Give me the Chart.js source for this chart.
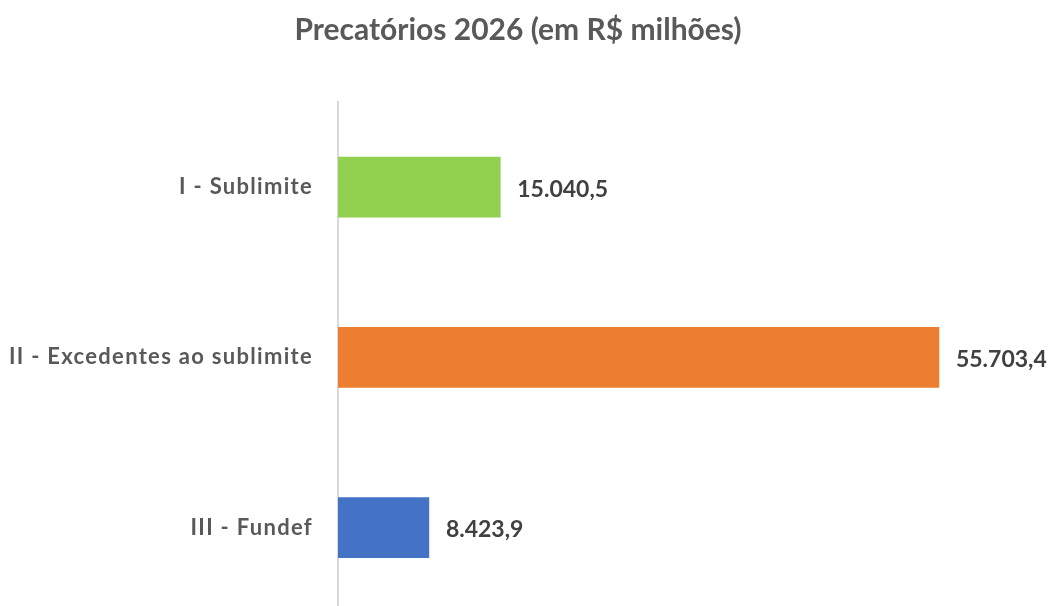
<!DOCTYPE html>
<html>
<head>
<meta charset="utf-8">
<script src="https://cdn.jsdelivr.net/npm/chart.js@4"></script>
<style>
  html, body { margin:0; padding:0; background:#fff; overflow:hidden; }
</style>
</head>
<body>
<canvas id="chart" width="1052" height="651" style="width:1052px;height:651px"></canvas>
<script>
// --- Data ---
const categories = ['I - Sublimite', 'II - Excedentes ao sublimite', 'III - Fundef'];
const values = [15040.5, 55703.4, 8423.9];
const barColors = ['#92D050', '#ED7D31', '#4472C4'];
const titleText = 'Precatórios 2026 (em R$ milhões)';

const FONT = 'Lato, "Open Sans", sans-serif';
const fmt = v => v.toLocaleString('pt-BR', { minimumFractionDigits: 1, maximumFractionDigits: 1 });

// value labels to the right of each bar
const valueLabels = {
  id: 'valueLabels',
  afterDatasetsDraw(chart){
    const ctx = chart.ctx;
    const meta = chart.getDatasetMeta(0);
    ctx.save();
    ctx.font = 'bold 23px ' + FONT;
    ctx.fillStyle = '#404040';
    ctx.textAlign = 'left';
    ctx.textBaseline = 'middle';
    meta.data.forEach((bar, i) => {
      ctx.fillText(fmt(values[i]), bar.x + 17, bar.y + 2);
    });
    ctx.restore();
  }
};

// wider letter spacing on the category labels (Excel look)
const spacedTicks = {
  id: 'spacedTicks',
  afterLayout(chart){
    const s = chart.scales.y;
    if (s._spaced) return;
    const orig = s.drawLabels.bind(s);
    s.drawLabels = function(area){
      chart.ctx.save();
      chart.ctx.letterSpacing = '1.3px';
      orig(area);
      chart.ctx.restore();
    };
    s._spaced = true;
  }
};

new Chart(document.getElementById('chart'), {
  type: 'bar',
  data: {
    labels: categories,
    datasets: [{ data: values, backgroundColor: barColors, barThickness: 60 }]
  },
  options: {
    indexAxis: 'y',
    responsive: false,
    animation: false,
    layout: { padding: { left: 0, right: 16, top: 0, bottom: 0 } },
    plugins: {
      legend: { display: false },
      tooltip: { enabled: false },
      title: {
        display: true,
        text: titleText,
        color: '#595959',
        font: { family: FONT, size: 30, weight: 'bold', lineHeight: 1.2 },
        padding: { top: 12, bottom: 54 }
      }
    },
    scales: {
      x: { display: false, min: 0, max: 64700 },
      y: {
        afterFit(scale){ scale.width = 338; },
        grid: { display: false, drawTicks: false },
        border: { display: true, color: '#D9D9D9', width: 2 },
        ticks: {
          color: '#595959',
          padding: 25,
          font: { family: FONT, size: 22, weight: 'bold' }
        }
      }
    }
  },
  plugins: [valueLabels, spacedTicks]
});
</script>
</body>
</html>
